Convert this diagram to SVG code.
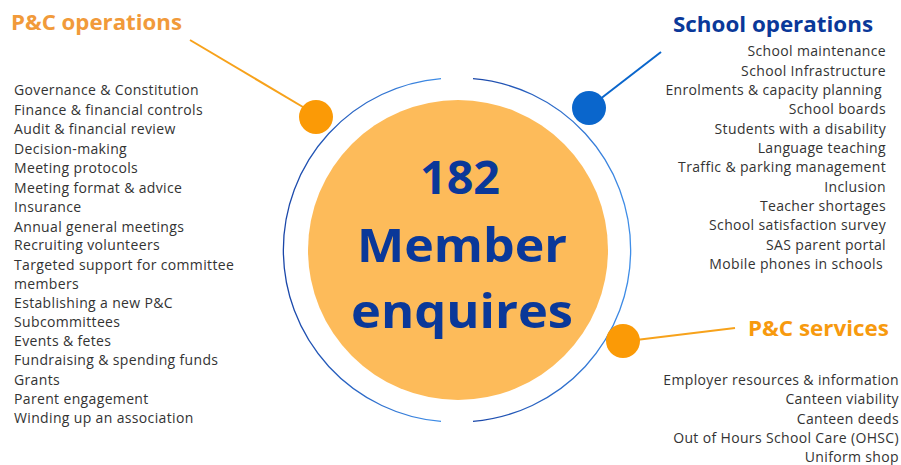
<svg xmlns="http://www.w3.org/2000/svg" width="901" height="465" viewBox="0 0 901 465">
<style>
.item{font-family:"Open Sans","Noto Sans",sans-serif;font-size:14px;letter-spacing:0.35px;fill:#333}
.r{text-anchor:end}
.head{font-family:"Open Sans","Noto Sans",sans-serif;font-size:21px;font-weight:bold}
.big{font-family:"Open Sans","Noto Sans",sans-serif;font-size:47px;font-weight:bold;fill:#0A3899;text-anchor:middle}
</style>
<defs>
<linearGradient id="ring" x1="0" y1="0" x2="1" y2="0">
<stop offset="0" stop-color="#1A46A8"/>
<stop offset="1" stop-color="#3F8EE8"/>
</linearGradient>
</defs>
<rect width="901" height="465" fill="#fff"/>
<g id="connectors">
<line x1="190" y1="40" x2="308" y2="110" stroke="#F7A21B" stroke-width="2"/>
<line x1="661" y1="52" x2="595" y2="103" stroke="#0A66CC" stroke-width="2"/>
<line x1="636" y1="340" x2="735" y2="328" stroke="#F7A21B" stroke-width="2"/>
</g>
<g id="center">
<path d="M441 78.6 A172 172 0 0 0 441 421.4" fill="none" stroke="url(#ring)" stroke-width="1.3"/>
<path d="M473 78.6 A172 172 0 0 1 473 421.4" fill="none" stroke="url(#ring)" stroke-width="1.3"/>
<circle cx="458" cy="250" r="150" fill="#FDBB5A"/>
<text class="big" x="460" y="194" textLength="80" lengthAdjust="spacingAndGlyphs">182</text>
<text class="big" x="462" y="262" textLength="210" lengthAdjust="spacingAndGlyphs">Member</text>
<text class="big" x="462" y="328" textLength="222" lengthAdjust="spacingAndGlyphs">enquires</text>
</g>
<g id="pc-operations">
<circle cx="316" cy="117" r="17" fill="#FB9A06"/>
<text class="head" x="11" y="30" fill="#F19A3A" textLength="171" lengthAdjust="spacingAndGlyphs">P&amp;C operations</text>
<text class="item" x="14" y="95">Governance &amp; Constitution</text>
<text class="item" x="14" y="114.5">Finance &amp; financial controls</text>
<text class="item" x="14" y="134">Audit &amp; financial review</text>
<text class="item" x="14" y="153.5">Decision-making</text>
<text class="item" x="14" y="173">Meeting protocols</text>
<text class="item" x="14" y="192.5">Meeting format &amp; advice</text>
<text class="item" x="14" y="212">Insurance</text>
<text class="item" x="14" y="231.5">Annual general meetings</text>
<text class="item" x="14" y="250">Recruiting volunteers</text>
<text class="item" x="14" y="269.5">Targeted support for committee</text>
<text class="item" x="14" y="289">members</text>
<text class="item" x="14" y="308">Establishing a new P&amp;C</text>
<text class="item" x="14" y="327">Subcommittees</text>
<text class="item" x="14" y="346">Events &amp; fetes</text>
<text class="item" x="14" y="365">Fundraising &amp; spending funds</text>
<text class="item" x="14" y="384.5">Grants</text>
<text class="item" x="14" y="404">Parent engagement</text>
<text class="item" x="14" y="423">Winding up an association</text>
</g>
<g id="school-operations">
<circle cx="589" cy="108" r="17" fill="#0A66CC"/>
<text class="head" x="673" y="32" fill="#0A3899" textLength="200" lengthAdjust="spacingAndGlyphs">School operations</text>
<text class="item r" x="886" y="56">School maintenance</text>
<text class="item r" x="886" y="75.5">School Infrastructure</text>
<text class="item r" x="882" y="95">Enrolments &amp; capacity planning</text>
<text class="item r" x="886" y="114">School boards</text>
<text class="item r" x="886" y="133.5">Students with a disability</text>
<text class="item r" x="886" y="153">Language teaching</text>
<text class="item r" x="886" y="172">Traffic &amp; parking management</text>
<text class="item r" x="886" y="191.5">Inclusion</text>
<text class="item r" x="886" y="211">Teacher shortages</text>
<text class="item r" x="886" y="230">School satisfaction survey</text>
<text class="item r" x="886" y="249.5">SAS parent portal</text>
<text class="item r" x="883" y="269">Mobile phones in schools</text>
</g>
<g id="pc-services">
<circle cx="623" cy="341" r="17" fill="#FB9A06"/>
<text class="head" x="748" y="336" fill="#F79A0E" textLength="141" lengthAdjust="spacingAndGlyphs">P&amp;C services</text>
<text class="item r" x="899" y="385">Employer resources &amp; information</text>
<text class="item r" x="899" y="404">Canteen viability</text>
<text class="item r" x="899" y="423.5">Canteen deeds</text>
<text class="item r" x="899" y="443">Out of Hours School Care (OHSC)</text>
<text class="item r" x="899" y="462">Uniform shop</text>
</g>
</svg>
